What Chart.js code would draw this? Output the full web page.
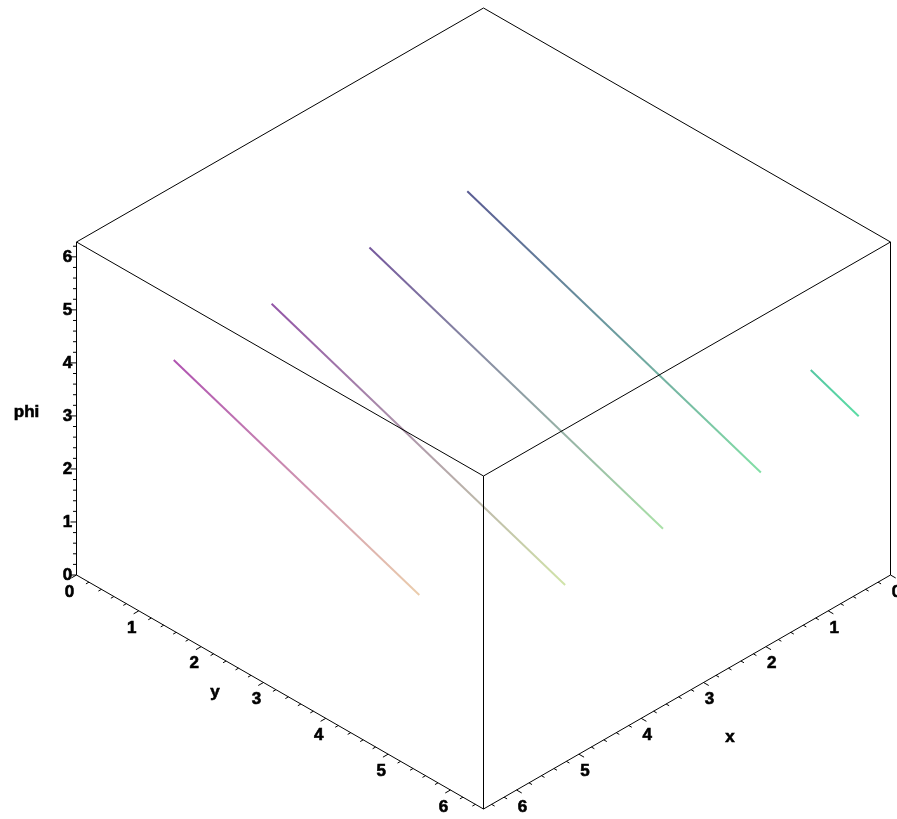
<!DOCTYPE html>
<html>
<head>
<meta charset="utf-8">
<title>phi</title>
<script src="https://cdn.jsdelivr.net/npm/chart.js@4.4.1/dist/chart.umd.min.js"></script>
<style>
  html, body { margin: 0; padding: 0; background: #fff; }
  #wrap { width: 897px; height: 819px; }
</style>
</head>
<body>
<div id="wrap"><canvas id="plot" width="897" height="819"></canvas></div>
<script>
// axis ranges of the box
const xRange = [0, 6.53];
const yRange = [0, 6.53];
const phiRange = [0, 6.28];

// tick labels
const xTicks = [0, 1, 2, 3, 4, 5, 6];
const yTicks = [0, 1, 2, 3, 4, 5, 6];
const phiTicks = [0, 1, 2, 3, 4, 5, 6];

// orbit pieces (x wraps at 2pi), phi stays at 3
const curveX0 = [4.97, 3.40, 1.83, 0.26, 0.00];
const curveX1 = [6.28, 4.97, 3.40, 1.83, 0.26];
const curveY0 = [0.00, 0.00, 0.00, 0.00, 5.25];
const curveY1 = [5.25, 6.28, 6.28, 6.28, 6.28];
const curvePhi = [3.0, 3.0, 3.0, 3.0, 3.0];

// box placement on the canvas (pixels)
const BOX = { cx: 483.5, back: 341, halfW: 407, depth: 234, height: 333 };

function norm(v, r) { return (v - r[0]) / (r[1] - r[0]); }

// isometric-ish projection: x runs to the lower left, y to the lower right
function project(x, y, phi) {
    const u = norm(x, xRange), v = norm(y, yRange), w = norm(phi, phiRange);
    return {
        x: BOX.cx + BOX.halfW * (v - u),
        y: BOX.back + BOX.depth * (u + v) - BOX.height * w
    };
}

// shading by position in the xy plane
const shade = {
    c00: [85, 92, 145],
    c10: [200, 80, 185],
    c01: [85, 220, 165],
    c11: [242, 230, 170]
};
function colorAt(x, y) {
    const u = Math.min(1, Math.max(0, x / 6.283));
    const v = Math.min(1, Math.max(0, y / 6.283));
    const c = [0, 1, 2].map(i =>
        Math.round(shade.c00[i] * (1 - u) * (1 - v) + shade.c10[i] * u * (1 - v) +
                   shade.c01[i] * (1 - u) * v + shade.c11[i] * u * v));
    return 'rgb(' + c.join(',') + ')';
}

// box edges as corner pairs [u, v, w] in 0/1 units
const edges = [
    [[1, 0, 1], [0, 0, 1]], [[0, 0, 1], [0, 1, 1]],
    [[1, 0, 1], [1, 1, 1]], [[1, 1, 1], [0, 1, 1]],
    [[1, 0, 0], [1, 0, 1]], [[0, 1, 0], [0, 1, 1]], [[1, 1, 0], [1, 1, 1]],
    [[1, 0, 0], [1, 1, 0]], [[0, 1, 0], [1, 1, 0]]
];

function corner(c) {
    return project(xRange[c[0]], yRange[c[1]], phiRange[c[2]]);
}

const datasets = [];

edges.forEach(e => {
    datasets.push({
        data: [corner(e[0]), corner(e[1])],
        showLine: true,
        borderColor: '#000',
        borderWidth: 1,
        pointRadius: 0,
        fill: false
    });
});

curveX0.forEach((x0, i) => {
    const a = { x: x0, y: curveY0[i] };
    const b = { x: curveX1[i], y: curveY1[i] };
    datasets.push({
        data: [project(a.x, a.y, curvePhi[i]), project(b.x, b.y, curvePhi[i])],
        showLine: true,
        borderWidth: 2,
        pointRadius: 0,
        fill: false,
        borderColor: (ctx) => {
            const chart = ctx.chart;
            if (!chart.chartArea) return colorAt(a.x, a.y);
            const sx = chart.scales.x, sy = chart.scales.y;
            const p = project(a.x, a.y, curvePhi[i]);
            const q = project(b.x, b.y, curvePhi[i]);
            const g = chart.ctx.createLinearGradient(
                sx.getPixelForValue(p.x), sy.getPixelForValue(p.y),
                sx.getPixelForValue(q.x), sy.getPixelForValue(q.y));
            for (let k = 0; k <= 4; k++) {
                const t = k / 4;
                g.addColorStop(t, colorAt(a.x + (b.x - a.x) * t, a.y + (b.y - a.y) * t));
            }
            return g;
        }
    });
});

// tick marks, tick labels and axis titles
const axisDecor = {
    id: 'axisDecor',
    afterDatasetsDraw(chart) {
        const ctx = chart.ctx;
        const sx = chart.scales.x, sy = chart.scales.y;
        const px = p => ({ x: sx.getPixelForValue(p.x), y: sy.getPixelForValue(p.y) });
        const dirX = { x: -0.867, y: 0.498 };
        const dirY = { x: 0.867, y: 0.498 };

        ctx.save();
        ctx.strokeStyle = '#000';
        ctx.lineWidth = 1;
        ctx.beginPath();
        for (let k = 0; k <= 32; k++) {
            const t = Math.round(k * 2) / 10;
            const major = Math.abs(t - Math.round(t)) < 1e-6;
            const len = major ? 6 : 3.5;
            if (t <= phiRange[1]) {
                const p = px(project(xRange[1], yRange[0], t));
                ctx.moveTo(p.x, p.y);
                ctx.lineTo(p.x - len, p.y);
            }
            if (t <= yRange[1]) {
                const p = px(project(xRange[1], t, phiRange[0]));
                ctx.moveTo(p.x, p.y);
                ctx.lineTo(p.x + dirX.x * len, p.y + dirX.y * len);
            }
            if (t <= xRange[1]) {
                const p = px(project(t, yRange[1], phiRange[0]));
                ctx.moveTo(p.x, p.y);
                ctx.lineTo(p.x + dirY.x * len, p.y + dirY.y * len);
            }
        }
        ctx.stroke();

        // heavy bold lettering
        ctx.fillStyle = '#000';
        ctx.strokeStyle = '#000';
        ctx.lineWidth = 0.6;
        ctx.font = 'bold 17px "Liberation Sans", Arial, sans-serif';
        ctx.textAlign = 'center';
        ctx.textBaseline = 'middle';
        const label = (s, x, y) => { ctx.fillText(s, x, y); ctx.strokeText(s, x, y); };
        phiTicks.forEach(t => {
            const p = px(project(xRange[1], yRange[0], t));
            label(String(t), p.x - 9, p.y);
        });
        yTicks.forEach(t => {
            const p = px(project(xRange[1], t, phiRange[0]));
            label(String(t), p.x - 7, p.y + 17);
        });
        xTicks.forEach(t => {
            const p = px(project(t, yRange[1], phiRange[0]));
            label(String(t), p.x + 6, p.y + 17);
        });

        const midPhi = px(project(xRange[1], yRange[0], (phiRange[0] + phiRange[1]) / 2));
        label('phi', midPhi.x - 50, midPhi.y + 4);
        const midY = px(project(xRange[1], (yRange[0] + yRange[1]) / 2, phiRange[0]));
        label('y', midY.x - 65, midY.y);
        const midX = px(project((xRange[0] + xRange[1]) / 2, yRange[1], phiRange[0]));
        label('x', midX.x + 43, midX.y + 45);
        ctx.restore();
    }
};

new Chart(document.getElementById('plot'), {
    type: 'scatter',
    data: { datasets },
    options: {
        responsive: false,
        animation: false,
        layout: { padding: 0 },
        plugins: { legend: { display: false }, tooltip: { enabled: false } },
        scales: {
            x: { type: 'linear', min: 0, max: 897, display: false },
            y: { type: 'linear', min: 0, max: 819, reverse: true, display: false }
        }
    },
    plugins: [axisDecor]
});
</script>
</body>
</html>
